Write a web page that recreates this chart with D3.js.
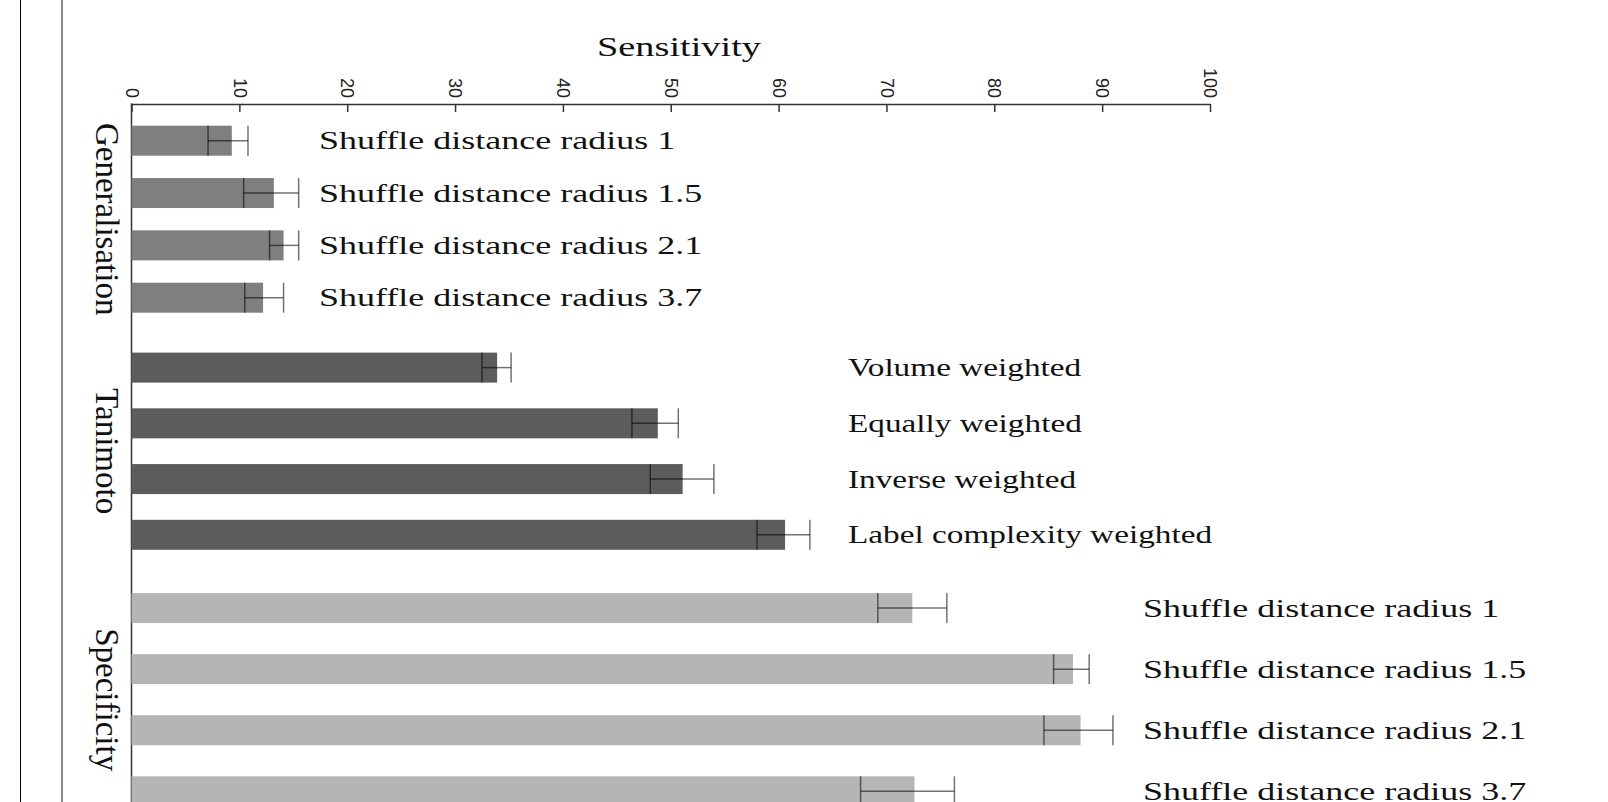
<!DOCTYPE html>
<html>
<head>
<meta charset="utf-8">
<script src="https://cdn.jsdelivr.net/npm/d3@7"></script>
<style>
  body { margin: 0; background: #fff; }
  svg { display: block; }
</style>
</head>
<body>
<div id="chart"></div>
<script>
// Data
var groups = ["Generalisation", "Tanimoto", "Specificity"];

var genLabels = ["Shuffle distance radius 1", "Shuffle distance radius 1.5", "Shuffle distance radius 2.1", "Shuffle distance radius 3.7"];
var genMean = [9.3, 13.2, 14.1, 12.2];
var genLow  = [7.1, 10.4, 12.8, 10.5];
var genHigh = [10.8, 15.5, 15.5, 14.1];

var tanLabels = ["Volume weighted", "Equally weighted", "Inverse weighted", "Label complexity weighted"];
var tanMean = [33.9, 48.8, 51.1, 60.6];
var tanLow  = [32.5, 46.4, 48.1, 58.0];
var tanHigh = [35.2, 50.7, 54.0, 62.9];

var specLabels = ["Shuffle distance radius 1", "Shuffle distance radius 1.5", "Shuffle distance radius 2.1", "Shuffle distance radius 3.7"];
var specMean = [72.4, 87.3, 88.0, 72.6];
var specLow  = [69.2, 85.5, 84.6, 67.6];
var specHigh = [75.6, 88.8, 91.0, 76.3];

var xTicks = [0, 10, 20, 30, 40, 50, 60, 70, 80, 90, 100];
var axisTitle = "Sensitivity";

// Layout
var W = 1608, H = 802;
var axisY = 104;
var barH = 30;
var groupColors = ["#7f7f7f", "#5c5c5c", "#b5b5b5"];
var groupCenters = [[140.7, 297.7], [367.6, 534.8], [608.1, 791.3]];   // first / last bar centre
var labelX = [319, 848, 1143];
var labelScale = [1.385, 1.28, 1.385];
var serif = "'Liberation Serif', 'Times New Roman', serif";

var svg = d3.select("#chart").append("svg")
    .attr("width", W)
    .attr("height", H);

// frame lines on the left
svg.append("line").attr("x1", 20.5).attr("x2", 20.5).attr("y1", 0).attr("y2", H)
    .attr("stroke", "#000").attr("stroke-width", 1);
svg.append("line").attr("x1", 62).attr("x2", 62).attr("y1", 0).attr("y2", H)
    .attr("stroke", "#888").attr("stroke-width", 2);

var x = d3.scaleLinear().domain([0, 100]).range([131.5, 1210]);

// top axis, ticks pointing down
var axis = svg.append("g")
    .attr("transform", "translate(0," + axisY + ")")
    .call(d3.axisTop(x).tickValues(xTicks).tickSize(-8).tickSizeOuter(0));
axis.select(".domain").attr("stroke", "#333").attr("stroke-width", 1.5);
axis.selectAll(".tick line").attr("stroke", "#333").attr("stroke-width", 1.5);
axis.selectAll(".tick text")
    .attr("transform", "rotate(90)")
    .attr("x", -6).attr("y", 0).attr("dy", "0.35em")
    .attr("text-anchor", "end")
    .attr("fill", "#222")
    .style("font-family", "'Liberation Sans', Arial, sans-serif")
    .style("font-size", "18px");

svg.append("line")
    .attr("x1", x(0)).attr("x2", x(0))
    .attr("y1", axisY - 0.75).attr("y2", H)
    .attr("stroke", "#333").attr("stroke-width", 1.5);

svg.append("text")
    .attr("transform", "translate(679,56) scale(1.42,1)")
    .attr("text-anchor", "middle")
    .style("font-family", serif)
    .style("font-size", "27px")
    .attr("fill", "#111")
    .text(axisTitle);

var groupData = [
    {labels: genLabels, mean: genMean, low: genLow, high: genHigh},
    {labels: tanLabels, mean: tanMean, low: tanLow, high: tanHigh},
    {labels: specLabels, mean: specMean, low: specLow, high: specHigh}
];

groupData.forEach(function(gd, gi) {
    var idx = d3.range(gd.labels.length);
    var y = d3.scalePoint().domain(idx).range(groupCenters[gi]);
    var rows = idx.map(function(i) {
        return {label: gd.labels[i], mean: gd.mean[i], low: gd.low[i], high: gd.high[i], i: i};
    });
    var g = svg.append("g");

    g.selectAll("rect.bar")
        .data(rows)
        .enter().append("rect")
        .attr("class", "bar")
        .attr("x", x(0))
        .attr("y", d => y(d.i) - barH / 2)
        .attr("width", d => x(d.mean) - x(0))
        .attr("height", barH)
        .attr("fill", groupColors[gi]);

    var eb = g.selectAll("g.err")
        .data(rows)
        .enter().append("g")
        .attr("class", "err")
        .attr("stroke", "rgba(0,0,0,0.55)")
        .attr("stroke-width", 1.5);
    eb.append("line")
        .attr("x1", d => x(d.low)).attr("x2", d => x(d.low))
        .attr("y1", d => y(d.i) - barH / 2).attr("y2", d => y(d.i) + barH / 2);
    eb.append("line")
        .attr("x1", d => x(d.high)).attr("x2", d => x(d.high))
        .attr("y1", d => y(d.i) - barH / 2).attr("y2", d => y(d.i) + barH / 2);
    eb.append("line")
        .attr("x1", d => x(d.low)).attr("x2", d => x(d.high))
        .attr("y1", d => y(d.i)).attr("y2", d => y(d.i));

    g.selectAll("text.lab")
        .data(rows)
        .enter().append("text")
        .attr("class", "lab")
        .attr("transform", d => "translate(" + labelX[gi] + "," + y(d.i) + ") scale(" + labelScale[gi] + ",1)")
        .attr("dy", "0.33em")
        .attr("fill", "#111")
        .style("font-family", serif)
        .style("font-size", "26px")
        .text(d => d.label);

    // rotated group name
    var mid = (groupCenters[gi][0] + groupCenters[gi][1]) / 2;
    svg.append("text")
        .attr("transform", "translate(96," + mid + ") rotate(90)")
        .attr("text-anchor", "middle")
        .attr("fill", "#111")
        .style("font-family", serif)
        .style("font-size", "33px")
        .text(groups[gi]);
});
</script>
</body>
</html>
